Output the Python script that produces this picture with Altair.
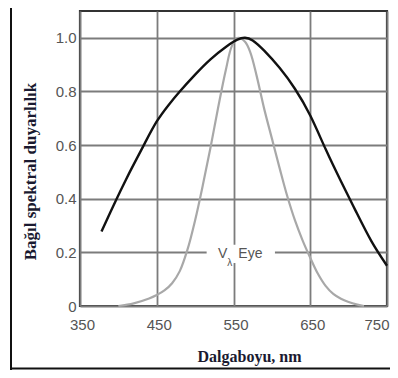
import altair as alt
import pandas as pd

# Black curve (relative spectral sensitivity of detector)
black_nm = [378, 390, 400, 410, 420, 435, 450, 465, 480, 500, 520, 540, 555, 565, 575, 590, 610, 630, 650, 670, 690, 710, 730, 750]
black_val = [0.278, 0.352, 0.413, 0.472, 0.528, 0.61, 0.688, 0.748, 0.80, 0.863, 0.92, 0.966, 0.993, 1.0, 0.99, 0.952, 0.888, 0.81, 0.71, 0.585, 0.465, 0.35, 0.24, 0.15]

# Gray curve (V-lambda eye)
gray_nm = [400, 420, 440, 450, 460, 470, 480, 490, 500, 510, 520, 530, 540, 548, 556, 565, 572, 580, 590, 600, 610, 620, 630, 640, 650, 660, 670, 680, 690, 700, 710, 720]
gray_val = [0.0, 0.01, 0.028, 0.041, 0.058, 0.085, 0.13, 0.21, 0.32, 0.45, 0.59, 0.74, 0.88, 0.97, 1.0, 0.985, 0.945, 0.86, 0.735, 0.625, 0.515, 0.41, 0.32, 0.245, 0.18, 0.12, 0.075, 0.045, 0.027, 0.015, 0.006, 0.0]

x_ticks = [350, 450, 550, 650, 750]
y_ticks = [0, 0.1, 0.2, 0.3, 0.4, 0.5, 0.6, 0.7, 0.8, 0.9, 1.0, 1.1]

black_df = pd.DataFrame({"nm": black_nm, "v": black_val})
gray_df = pd.DataFrame({"nm": gray_nm, "v": gray_val})

xs = alt.Scale(domain=[350, 750], nice=False, zero=False)
ys = alt.Scale(domain=[0, 1.1], nice=False)

xaxis = alt.Axis(
    values=x_ticks, title="Dalgaboyu, nm", grid=True, gridColor="#7c7c7c", gridWidth=1.8,
    domain=False, ticks=False, labelFont="Liberation Sans", labelFontSize=15, labelColor="#555",
    labelPadding=11, labelBaseline="top", labelAngle=0, labelFlush=False, labelOffset=2,
    labelAlign={"condition": {"test": "datum.value >= 750", "value": "right"}, "value": "center"},
    titleFont="Liberation Serif", titleFontSize=16, titleFontWeight="bold", titleColor="#1a1a30",
    titleX=169, titleY=50, titleBaseline="middle", titleAlign="center", titleAnchor="start",
)
yaxis = alt.Axis(
    values=y_ticks, title="Bağıl spektral duyarlılık", grid=True, gridColor="#7c7c7c", gridWidth=1.8,
    domain=False, ticks=False, labelFont="Liberation Sans", labelFontSize=15, labelColor="#555",
    labelPadding=4,
    labelExpr="datum.value == 0 ? '0' : ((round(datum.value*10) % 2 == 0 && datum.value < 1.05) ? format(datum.value, '.1f') : '')",
    titleFont="Liberation Serif", titleFontSize=17, titleFontWeight="bold", titleColor="#1a1a30",
    titleX=-50, titleY=160, titleAngle=270, titleBaseline="middle", titleAlign="center", titleAnchor="start",
)

base_gray = alt.Chart(gray_df).mark_line(color="#a8a8a8", strokeWidth=2.2, interpolate="catmull-rom").encode(
    x=alt.X("nm:Q", scale=xs, axis=xaxis),
    y=alt.Y("v:Q", scale=ys, axis=yaxis),
)
black_line = alt.Chart(black_df).mark_line(color="#111111", strokeWidth=2.4, interpolate="natural").encode(
    x=alt.X("nm:Q", scale=xs), y=alt.Y("v:Q", scale=ys)
)

# label box for V-lambda
lbl_box = pd.DataFrame({"x1": [515], "x2": [604], "y1": [0.16], "y2": [0.228]})
box = alt.Chart(lbl_box).mark_rect(color="white").encode(
    x=alt.X("x1:Q", scale=xs), x2="x2:Q", y=alt.Y("y1:Q", scale=ys), y2="y2:Q"
)
lbl = pd.DataFrame({"t": ["V", "Eye"], "x": [536, 572], "y": [0.194, 0.194]})
lbl_text = alt.Chart(lbl).mark_text(font="Liberation Sans", fontSize=14, color="#555", baseline="middle").encode(
    x=alt.X("x:Q", scale=xs), y=alt.Y("y:Q", scale=ys), text="t:N"
)
sub = pd.DataFrame({"t": ["λ"], "x": [545], "y": [0.162]})
sub_text = alt.Chart(sub).mark_text(font="Liberation Sans", fontSize=10, color="#555", baseline="middle").encode(
    x=alt.X("x:Q", scale=xs), y=alt.Y("y:Q", scale=ys), text="t:N"
)

# outer frame lines (left and bottom of the figure box)
frame_left = alt.Chart(pd.DataFrame({"a": [0]})).mark_rule(color="#111", strokeWidth=2).encode(
    x=alt.value(-69), y=alt.value(-4), y2=alt.value(359)
)
frame_bottom = alt.Chart(pd.DataFrame({"a": [0]})).mark_rule(color="#111", strokeWidth=2).encode(
    x=alt.value(-70), x2=alt.value(320), y=alt.value(357.5)
)

chart = alt.layer(base_gray, box, black_line, lbl_text, sub_text, frame_left, frame_bottom).properties(
    width=307, height=295,
    autosize=alt.AutoSizeParams(type="none"),
    padding={"left": 72, "top": 3, "right": 3, "bottom": 64},
    background="white",
).configure_view(stroke="#333", strokeWidth=2.2)

chart.save("out.html", embed_options={"renderer": "svg", "actions": False})
